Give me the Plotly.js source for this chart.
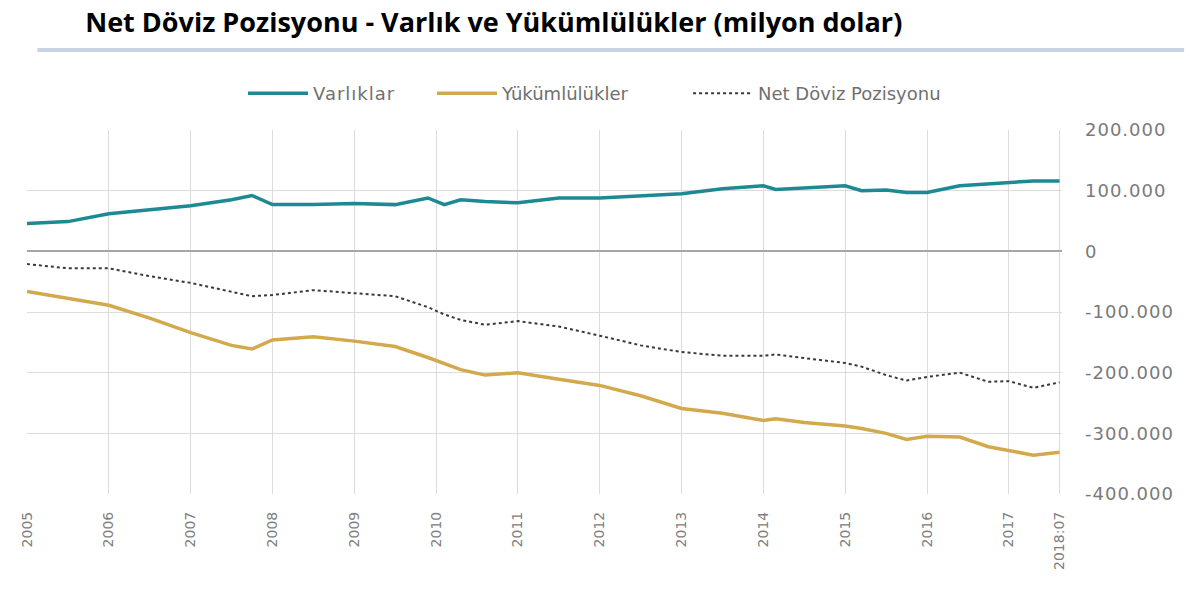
<!DOCTYPE html>
<html>
<head>
<meta charset="utf-8">
<script src="https://cdn.plot.ly/plotly-3.0.1.min.js"></script>
<style>
  html, body { margin:0; padding:0; background:#fff; }
  #chart { width:1200px; height:610px; }
  .legendtext { letter-spacing: 1px; }
  .ytick text { letter-spacing: 1px; }
</style>
</head>
<body>
<div id="chart"></div>
<script>
// zaman ekseni: yil (kesirli), son nokta 2018:07 etiketi
const tarih = [2005, 2005.5, 2006, 2006.5, 2007, 2007.5, 2007.75, 2008, 2008.5, 2009, 2009.5, 2009.9,
  2010.1, 2010.3, 2010.6, 2011, 2011.5, 2012, 2012.5, 2013, 2013.5, 2014, 2014.15, 2014.5, 2015,
  2015.2, 2015.5, 2015.75, 2016, 2016.4, 2016.75, 2017, 2017.3, 2017.62];

// milyon dolar
const varliklar = [46000, 49000, 62000, 69000, 75000, 85000, 92000, 77000, 77000, 79000, 77000, 88000,
  77000, 85000, 82000, 80000, 88000, 88000, 91000, 95000, 103000, 108000, 102000, 105000, 108000,
  100000, 101000, 97000, 97000, 108000, 111000, 113000, 116000, 116000];

const yukumlulukler = [-66000, -77000, -89000, -110000, -134000, -155000, -161000, -146000, -141000, -148000, -157000, -175000,
  -185000, -195000, -204000, -200000, -211000, -221000, -238000, -259000, -267000, -279000, -276000, -282000, -288000,
  -292000, -300000, -310000, -305000, -306000, -322000, -328000, -336000, -331000];

const netPozisyon = [-21000, -28000, -28000, -41000, -52000, -66000, -74000, -72000, -64000, -69000, -74000, -92000,
  -104000, -113000, -121000, -115000, -124000, -139000, -155000, -166000, -172000, -172000, -170000, -176000, -184000,
  -190000, -204000, -213000, -207000, -200000, -215000, -214000, -225000, -216000];

const tickYil = [2005, 2006, 2007, 2008, 2009, 2010, 2011, 2012, 2013, 2014, 2015, 2016, 2017, 2017.62];
const tickEtiket = ['2005', '2006', '2007', '2008', '2009', '2010', '2011', '2012', '2013', '2014', '2015', '2016', '2017', '2018:07'];

const yTickDeger = [200000, 100000, 0, -100000, -200000, -300000, -400000];
const yTickEtiket = ['200.000', '100.000', '0', '-100.000', '-200.000', '-300.000', '-400.000'];

const traces = [
  { x: tarih, y: varliklar, name: 'Varlıklar', type: 'scatter', mode: 'lines', legend: 'legend',
    line: { color: '#1d8a93', width: 3.5 } },
  { x: tarih, y: yukumlulukler, name: 'Yükümlülükler', type: 'scatter', mode: 'lines', legend: 'legend2',
    line: { color: '#d3a94e', width: 3.5 } },
  { x: tarih, y: netPozisyon, name: 'Net Döviz Pozisyonu', type: 'scatter', mode: 'lines', legend: 'legend3',
    line: { color: '#3a3a3a', width: 2, dash: 'dot' } }
];

const legendBase = { orientation: 'h', xanchor: 'left', y: 1.10, yanchor: 'middle',
  font: { size: 18, color: '#707070' }, itemwidth: 60, bgcolor: 'rgba(0,0,0,0)' };

const layout = {
  width: 1200, height: 610,
  margin: { l: 27, r: 138, t: 130, b: 116 },
  paper_bgcolor: '#fff', plot_bgcolor: '#fff',
  font: { family: '"DejaVu Sans", sans-serif', color: '#595959' },
  showlegend: true,
  title: {
    text: '<b>Net Döviz Pozisyonu - Varlık ve Yükümlülükler (milyon dolar)</b>',
    font: { family: '"Open Sans", sans-serif', size: 27, color: '#000' },
    x: 0.071, xanchor: 'left', y: 0.963, yanchor: 'middle'
  },
  legend: Object.assign({}, legendBase, { x: 0.2087 }),
  legend2: Object.assign({}, legendBase, { x: 0.3913 }),
  legend3: Object.assign({}, legendBase, { x: 0.6387 }),
  xaxis: {
    range: [2005, 2017.65],
    tickvals: tickYil, ticktext: tickEtiket,
    tickangle: -90, tickfont: { size: 14, color: '#808080' },
    showgrid: true, gridcolor: '#dcdcdc', gridwidth: 1,
    zeroline: false, showline: false, ticks: '', ticklabelstandoff: 14
  },
  yaxis: {
    side: 'right', range: [-400000, 200000],
    tickvals: yTickDeger, ticktext: yTickEtiket,
    tickfont: { size: 18, color: '#7a7a7a' },
    showgrid: true, gridcolor: '#dcdcdc', gridwidth: 1,
    zeroline: true, zerolinecolor: '#a6a6a6', zerolinewidth: 2,
    showline: false, ticks: '', ticklabelstandoff: 22
  },
  shapes: [
    { type: 'line', xref: 'paper', yref: 'paper', x0: 0.01, x1: 1.118, y0: 1.22, y1: 1.22,
      line: { color: '#c8d4e6', width: 4 } }
  ]
};

Plotly.newPlot('chart', traces, layout, { displayModeBar: false, staticPlot: true });
</script>
</body>
</html>
